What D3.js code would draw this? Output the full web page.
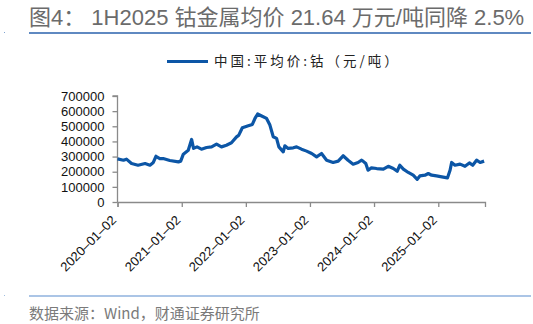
<!DOCTYPE html>
<html>
<head>
<meta charset="utf-8">
<script src="https://cdn.jsdelivr.net/npm/d3@7"></script>
<style>
  body { margin: 0; background: #fff; }
  svg { display: block; }
</style>
</head>
<body>
<div class="svg-container"></div>
<script>
// cobalt average price, China (yuan / tonne)
const dates = [
  '2020-01-02', '2020-02-05', '2020-02-22', '2020-03-22', '2020-04-28', '2020-06-07',
  '2020-07-05', '2020-07-24', '2020-08-08', '2020-08-30', '2020-09-18', '2020-10-26',
  '2020-12-14', '2020-12-27', '2021-01-11', '2021-02-08', '2021-02-27', '2021-03-10',
  '2021-03-30', '2021-04-24', '2021-05-23', '2021-06-21', '2021-07-19', '2021-08-16',
  '2021-09-13', '2021-10-12', '2021-11-10', '2021-11-22', '2021-12-13', '2022-01-16',
  '2022-02-08', '2022-02-23', '2022-03-10', '2022-04-02', '2022-04-30', '2022-05-19',
  '2022-06-07', '2022-06-26', '2022-07-09', '2022-08-03', '2022-08-12', '2022-08-31',
  '2022-09-29', '2022-10-18', '2022-11-15', '2022-12-14', '2023-01-12', '2023-02-09',
  '2023-03-09', '2023-04-07', '2023-05-14', '2023-06-12', '2023-07-10', '2023-08-07',
  '2023-09-05', '2023-10-03', '2023-10-22', '2023-10-31', '2023-11-16', '2023-11-29',
  '2023-12-18', '2024-01-17', '2024-02-24', '2024-03-23', '2024-04-21', '2024-05-13',
  '2024-05-28', '2024-06-17', '2024-07-15', '2024-08-12', '2024-09-04', '2024-09-19',
  '2024-10-18', '2024-11-06', '2024-11-25', '2024-12-23', '2025-01-22', '2025-02-23',
  '2025-03-10', '2025-03-19', '2025-04-07', '2025-05-06', '2025-06-03', '2025-06-28',
  '2025-07-17', '2025-08-08', '2025-08-28', '2025-09-20'
];
const prices = [
  285000, 276000, 283000, 254000, 243000, 254000,
  243000, 261000, 302000, 287000, 287000, 274000,
  265000, 270000, 316000, 342000, 413000, 354000,
  364000, 349000, 360000, 364000, 382000, 364000,
  375000, 391000, 430000, 440000, 490000, 503000,
  512000, 552000, 581000, 568000, 552000, 508000,
  431000, 420000, 364000, 331000, 371000, 354000,
  358000, 364000, 349000, 336000, 320000, 298000,
  320000, 276000, 261000, 270000, 305000, 276000,
  250000, 261000, 276000, 270000, 254000, 210000,
  225000, 221000, 217000, 236000, 221000, 203000,
  243000, 217000, 195000, 177000, 150000, 172000,
  177000, 188000, 177000, 172000, 166000, 159000,
  210000, 261000, 243000, 250000, 236000, 258000,
  243000, 276000, 261000, 270000
];
const yTicks = [0, 100000, 200000, 300000, 400000, 500000, 600000, 700000];
const xTickDates = ['2020-01-02', '2021-01-02', '2022-01-02', '2023-01-02', '2024-01-02', '2025-01-02'];

const titleText = '图4： 1H2025 钴金属均价 21.64 万元/吨同降 2.5%';
const legendText = '中国:平均价:钴（元/吨）';
const sourceText = '数据来源：Wind，财通证券研究所';

const width = 533;
const height = 324;
const blue = '#0c56a6';
const latin = "'Liberation Sans', Arial, sans-serif";
const cjk = "'Noto Sans CJK SC', 'Liberation Sans', sans-serif";
const mixed = "'Liberation Sans', 'Noto Sans CJK SC', sans-serif";

const parse = d3.timeParse('%Y-%m-%d');
const data = dates.map((d, i) => ({ date: parse(d), value: prices[i] }));

const svg = d3.select('.svg-container')
  .append('svg')
  .attr('width', width)
  .attr('height', height);

// title + rule
svg.append('text')
  .attr('x', 29)
  .attr('y', 25)
  .attr('font-family', mixed)
  .attr('font-size', 22)
  .attr('fill', '#6b6b6b')
  .text(titleText);

svg.append('line')
  .attr('x1', 29).attr('x2', 531)
  .attr('y1', 33).attr('y2', 33)
  .attr('stroke', '#2a62ad')
  .attr('stroke-width', 1.5);

svg.append('rect').attr('x', 4).attr('y', 32).attr('width', 1).attr('height', 1).attr('fill', '#7fa3d0');

// legend
const legend = svg.append('g').attr('transform', 'translate(167, 61.5)');
legend.append('line')
  .attr('x1', 0).attr('x2', 41)
  .attr('stroke', blue)
  .attr('stroke-width', 3);
legend.append('text')
  .attr('x', 47)
  .attr('y', 4.5)
  .attr('font-family', cjk)
  .attr('font-size', 13.5)
  .attr('letter-spacing', 3)
  .attr('fill', '#222')
  .text(legendText);

// scales
const xScale = d3.scaleTime()
  .domain([parse('2020-01-02'), parse('2025-09-25')])
  .range([117.5, 485]);

const yScale = d3.scaleLinear()
  .domain([0, 700000])
  .range([202, 96]);

const yAxis = d3.axisLeft(yScale)
  .tickValues(yTicks)
  .tickSize(5)
  .tickPadding(8)
  .tickFormat(d => d);

const xAxis = d3.axisBottom(xScale)
  .tickValues(xTickDates.map(parse))
  .tickSize(5)
  .tickFormat(d3.timeFormat('%Y–%m–%d'));

const gy = svg.append('g')
  .attr('transform', 'translate(117.5, 0)')
  .call(yAxis);
gy.select('.domain').attr('d', `M-5,${yScale(700000)}H0V${yScale(0)}`);

const gx = svg.append('g')
  .attr('transform', `translate(0, ${yScale(0)})`)
  .call(xAxis);

gx.selectAll('text')
  .attr('y', 0)
  .attr('x', 0)
  .attr('dy', 0)
  .attr('text-anchor', 'end')
  .attr('transform', 'translate(-1, 19) rotate(-45)');

[gx, gy].forEach(g => {
  g.selectAll('.domain, line').attr('stroke', '#8a8a8a').attr('stroke-width', 1.3);
  g.selectAll('text')
    .attr('font-family', latin)
    .attr('font-size', 13)
    .attr('fill', '#111');
});

// price line
const line = d3.line()
  .x(d => xScale(d.date))
  .y(d => yScale(d.value));

svg.append('path')
  .datum(data)
  .attr('d', line)
  .attr('fill', 'none')
  .attr('stroke', blue)
  .attr('stroke-width', 3.2)
  .attr('stroke-linejoin', 'round');

// source footer
svg.append('line')
  .attr('x1', 29).attr('x2', 531)
  .attr('y1', 296).attr('y2', 296)
  .attr('stroke', '#8fb2de')
  .attr('stroke-width', 1.5);

svg.append('rect').attr('x', 4).attr('y', 295).attr('width', 1).attr('height', 1).attr('fill', '#9fbde0');

svg.append('text')
  .attr('x', 29)
  .attr('y', 319)
  .attr('font-family', cjk)
  .attr('font-size', 15)
  .attr('fill', '#7a7a7a')
  .text(sourceText);
</script>
</body>
</html>
